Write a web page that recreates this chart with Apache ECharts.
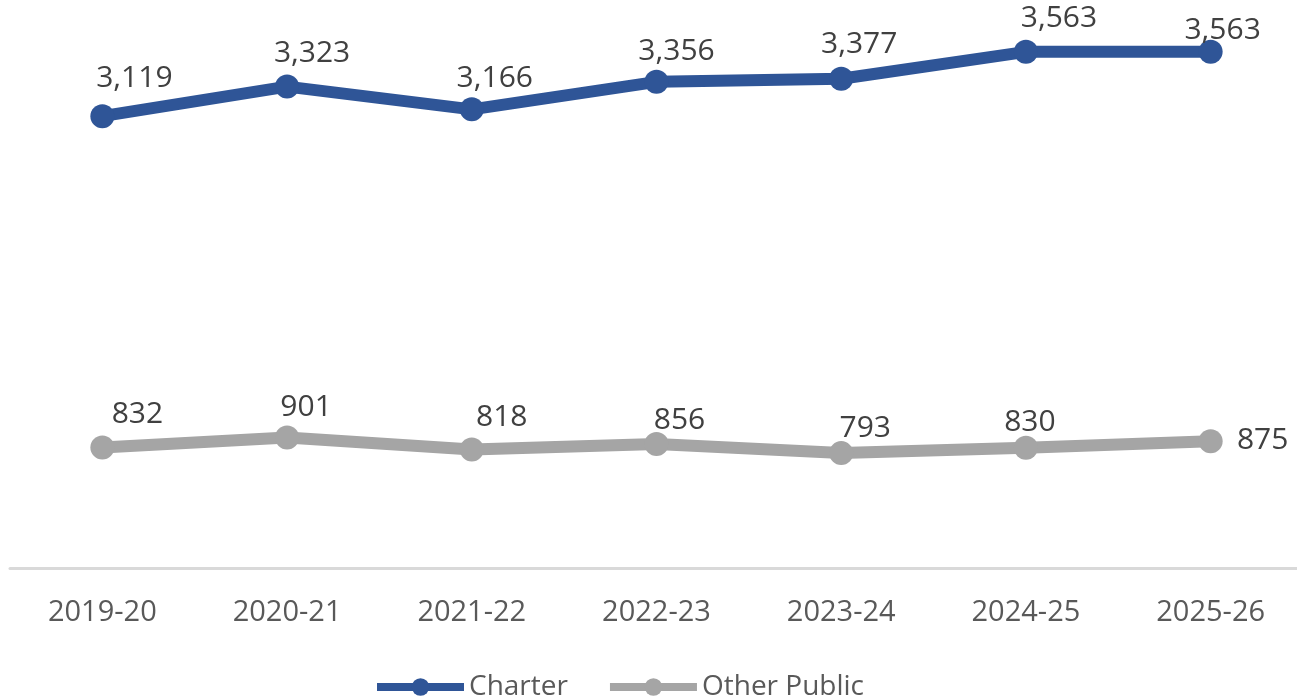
<!DOCTYPE html>
<html>
<head>
<meta charset="utf-8">
<script src="https://cdn.jsdelivr.net/npm/echarts@6/dist/echarts.min.js"></script>
<style>
  html, body { margin: 0; padding: 0; background: #fff; }
  #chart { width: 1297px; height: 699px; }
</style>
</head>
<body>
<div id="chart"></div>
<script>
const years = ['2019-20', '2020-21', '2021-22', '2022-23', '2023-24', '2024-25', '2025-26']
const charter = [3119, 3323, 3166, 3356, 3377, 3563, 3563]
const otherPublic = [832, 901, 818, 856, 793, 830, 875]

// label nudges (label centre relative to the point)
const charterLabelOffsets = [[32, -38], [25, -33], [23, -31], [20, -30], [18, -34], [33, -33], [12, -21]]
const otherLabelOffsets = [[35, -33], [19, -30], [30, -32], [23, -24], [24, -25], [4, -25], [52, -1]]

const fmt = v => Number(v).toLocaleString('en-US')

function withOffsets(values, offsets) {
  return values.map((v, i) => ({ value: v, label: { offset: offsets[i] } }))
}

const chart = echarts.init(document.getElementById('chart'))

const labelStyle = {
  show: true,
  position: 'inside',
  color: '#404040',
  fontFamily: 'Open Sans',
  fontSize: 30,
  formatter: p => fmt(p.value)
}

chart.setOption({
  animation: false,
  grid: {
    left: 10,
    width: 1293,
    top: 3,
    bottom: 131,
    outerBoundsMode: 'none'
  },
  legend: {
    left: 368,
    top: 668,
    itemWidth: 87,
    itemHeight: 22,
    itemGap: 38,
    textStyle: {
      color: '#595959',
      fontFamily: 'Open Sans',
      fontSize: 28
    },
    lineStyle: { width: 8 },
    data: ['Charter', 'Other Public']
  },
  xAxis: {
    type: 'category',
    data: years,
    boundaryGap: true,
    axisLine: { lineStyle: { color: '#d9d9d9', width: 3 } },
    axisTick: { show: false },
    axisLabel: {
      margin: 30,
      color: '#595959',
      fontFamily: 'Open Sans',
      fontSize: 29
    }
  },
  yAxis: {
    type: 'value',
    min: 0,
    max: 3900,
    show: false,
    splitLine: { show: false }
  },
  series: [
    {
      name: 'Charter',
      type: 'line',
      data: withOffsets(charter, charterLabelOffsets),
      symbol: 'circle',
      symbolSize: 24,
      lineStyle: { color: '#2F5597', width: 12 },
      itemStyle: { color: '#2F5597' },
      label: labelStyle
    },
    {
      name: 'Other Public',
      type: 'line',
      data: withOffsets(otherPublic, otherLabelOffsets),
      symbol: 'circle',
      symbolSize: 24,
      lineStyle: { color: '#A5A5A5', width: 12 },
      itemStyle: { color: '#A5A5A5' },
      label: labelStyle
    }
  ]
})
</script>
</body>
</html>
